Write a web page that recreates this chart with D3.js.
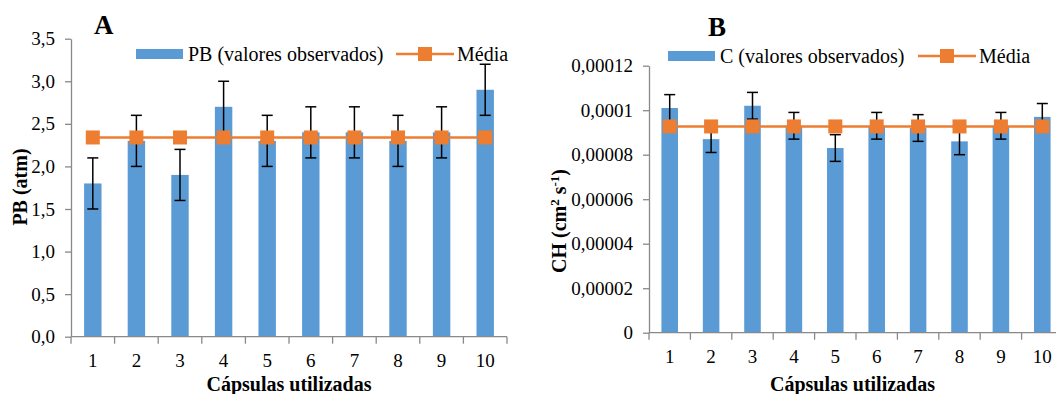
<!DOCTYPE html>
<html>
<head>
<meta charset="utf-8">
<script src="https://cdn.jsdelivr.net/npm/d3@7"></script>
<style>
  html, body { margin: 0; padding: 0; background: #fff; }
  svg { display: block; }
  text { font-family: "Liberation Serif", "Times New Roman", serif; fill: #000; }
</style>
</head>
<body>
<svg id="chart" width="1056" height="394"></svg>
<script>
// Capsule numbers shared by both panels
const capsulas = ["1", "2", "3", "4", "5", "6", "7", "8", "9", "10"];

// Panel A: bubbling pressure (atm) per capsule, with error half-widths
const pbValores = [1.8, 2.3, 1.9, 2.7, 2.3, 2.4, 2.4, 2.3, 2.4, 2.9];
const pbErro = [0.3, 0.3, 0.3, 0.3, 0.3, 0.3, 0.3, 0.3, 0.3, 0.3];
const pbTicks = [0, 0.5, 1.0, 1.5, 2.0, 2.5, 3.0, 3.5];
const pbTickLabels = ["0,0", "0,5", "1,0", "1,5", "2,0", "2,5", "3,0", "3,5"];

// Panel B: hydraulic conductivity (cm² s⁻¹) per capsule, with error half-widths
const chValores = [0.000101, 0.000087, 0.000102, 0.000093, 0.000083, 0.000093, 0.000092, 0.000086, 0.000093, 0.000097];
const chErro = [0.000006, 0.000006, 0.000006, 0.000006, 0.000006, 0.000006, 0.000006, 0.000006, 0.000006, 0.000006];
const chTicks = [0, 0.00002, 0.00004, 0.00006, 0.00008, 0.0001, 0.00012];
const chTickLabels = ["0", "0,00002", "0,00004", "0,00006", "0,00008", "0,0001", "0,00012"];

const BLUE = "#5B9BD5";
const ORANGE = "#ED7D31";
const AXIS = "#898989";

const svg = d3.select("#chart");

function drawPanel(p) {
  const g = svg.append("g");
  const x = d3.scaleBand().domain(capsulas).range([p.x0, p.x1])
    .paddingInner(0.6).paddingOuter(0.3);
  const y = d3.scaleLinear().domain(p.domain).range([p.y0, p.y1]);
  const media = d3.mean(p.values);

  // bars
  g.selectAll("rect.bar").data(p.values).join("rect")
    .attr("class", "bar")
    .attr("x", (d, i) => x(capsulas[i]))
    .attr("width", x.bandwidth())
    .attr("y", d => y(d))
    .attr("height", d => y(0) - y(d))
    .attr("fill", BLUE);

  // y axis
  const yAxis = d3.axisLeft(y).tickValues(p.ticks)
    .tickFormat((d, i) => p.tickLabels[i]).tickSize(6).tickSizeOuter(0).tickPadding(10);
  const ya = g.append("g").attr("transform", `translate(${p.x0},0)`).call(yAxis);
  ya.select(".domain").attr("stroke", AXIS).attr("stroke-width", 1.3);
  ya.selectAll(".tick line").attr("stroke", AXIS).attr("stroke-width", 1.3);
  ya.selectAll(".tick text").attr("font-family", "Liberation Serif").attr("font-size", 19).attr("fill", "#000");

  // x axis line with tick marks between categories
  const step = x.step();
  const xStart = x(capsulas[0]) - x.paddingOuter() * step;
  g.append("line")
    .attr("x1", p.x0).attr("x2", p.x1)
    .attr("y1", y(0)).attr("y2", y(0))
    .attr("stroke", AXIS).attr("stroke-width", 1.3);
  g.selectAll("line.xt").data(d3.range(capsulas.length + 1)).join("line")
    .attr("class", "xt")
    .attr("x1", i => xStart + i * step).attr("x2", i => xStart + i * step)
    .attr("y1", y(0)).attr("y2", y(0) + 7)
    .attr("stroke", AXIS).attr("stroke-width", 1.3);
  g.selectAll("text.xl").data(capsulas).join("text")
    .attr("class", "xl")
    .attr("x", d => x(d) + x.bandwidth() / 2)
    .attr("y", y(0) + 30)
    .attr("text-anchor", "middle")
    .attr("font-size", 19)
    .text(d => d);

  // error bars
  const cap = 5.5;
  const eb = g.selectAll("g.err").data(p.values).join("g").attr("class", "err")
    .attr("transform", (d, i) => `translate(${x(capsulas[i]) + x.bandwidth() / 2},0)`);
  eb.append("line")
    .attr("y1", (d, i) => y(d + p.errors[i])).attr("y2", (d, i) => y(d - p.errors[i]))
    .attr("stroke", "#000").attr("stroke-width", 1.5);
  eb.append("line").attr("x1", -cap).attr("x2", cap)
    .attr("y1", (d, i) => y(d + p.errors[i])).attr("y2", (d, i) => y(d + p.errors[i]))
    .attr("stroke", "#000").attr("stroke-width", 1.5);
  eb.append("line").attr("x1", -cap).attr("x2", cap)
    .attr("y1", (d, i) => y(d - p.errors[i])).attr("y2", (d, i) => y(d - p.errors[i]))
    .attr("stroke", "#000").attr("stroke-width", 1.5);

  // mean line with square markers
  const line = d3.line().x(d => x(d) + x.bandwidth() / 2).y(() => y(media));
  g.append("path").datum(capsulas).attr("d", line)
    .attr("fill", "none").attr("stroke", ORANGE).attr("stroke-width", 2.5);
  const ms = 14;
  g.selectAll("rect.mk").data(capsulas).join("rect")
    .attr("class", "mk")
    .attr("x", d => x(d) + x.bandwidth() / 2 - ms / 2)
    .attr("y", y(media) - ms / 2)
    .attr("width", ms).attr("height", ms)
    .attr("fill", ORANGE);

  // panel letter
  g.append("text").attr("x", p.letterX).attr("y", p.letterY)
    .attr("font-size", 27).attr("font-weight", "bold").text(p.letter);

  // legend
  const lg = g.append("g");
  lg.append("rect").attr("x", p.legX).attr("y", p.legY - 5).attr("width", 47).attr("height", 10).attr("fill", BLUE);
  lg.append("text").attr("x", p.legX + 52).attr("y", p.legY + 6.5)
    .attr("font-size", 20).text(p.legendLabel);
  lg.append("line").attr("x1", p.leg2X).attr("x2", p.leg2X + 58)
    .attr("y1", p.legY).attr("y2", p.legY)
    .attr("stroke", ORANGE).attr("stroke-width", 2.5);
  lg.append("rect").attr("x", p.leg2X + 29 - ms / 2).attr("y", p.legY - ms / 2)
    .attr("width", ms).attr("height", ms).attr("fill", ORANGE);
  lg.append("text").attr("x", p.leg2X + 61).attr("y", p.legY + 6.5)
    .attr("font-size", 20).text("Média");

  // axis titles
  g.append("text")
    .attr("x", (p.x0 + Math.min(p.x1, 1056)) / 2 + p.xTitleShift).attr("y", 391)
    .attr("text-anchor", "middle").attr("font-size", 20).attr("font-weight", "bold")
    .text("Cápsulas utilizadas");
  const yt = g.append("text")
    .attr("transform", `translate(${p.yTitleX},${p.yTitleY}) rotate(-90)`)
    .attr("text-anchor", "middle").attr("font-size", 20).attr("font-weight", "bold");
  p.yTitle(yt);
}

drawPanel({
  values: pbValores, errors: pbErro, ticks: pbTicks, tickLabels: pbTickLabels,
  domain: [0, 3.5], x0: 71, x1: 507, y0: 336.7, y1: 38.7,
  letter: "A", letterX: 94, letterY: 34,
  legendLabel: "PB (valores observados)", legX: 136, legY: 54, leg2X: 396,
  xTitleShift: 0, yTitleX: 27, yTitleY: 187,
  yTitle: t => t.text("PB (atm)")
});

drawPanel({
  values: chValores, errors: chErro, ticks: chTicks, tickLabels: chTickLabels,
  domain: [0, 0.00012], x0: 649, x1: 1063, y0: 332.7, y1: 65.7,
  letter: "B", letterX: 708, letterY: 36,
  legendLabel: "C (valores observados)", legX: 668, legY: 56, leg2X: 918,
  xTitleShift: 0, yTitleX: 566, yTitleY: 221,
  yTitle: t => {
    t.append("tspan").text("CH (cm");
    t.append("tspan").attr("dy", -7).attr("font-size", 13).text("2");
    t.append("tspan").attr("dy", 7).text(" s");
    t.append("tspan").attr("dy", -7).attr("font-size", 13).text("-1");
    t.append("tspan").attr("dy", 7).text(")");
  }
});
</script>
</body>
</html>
